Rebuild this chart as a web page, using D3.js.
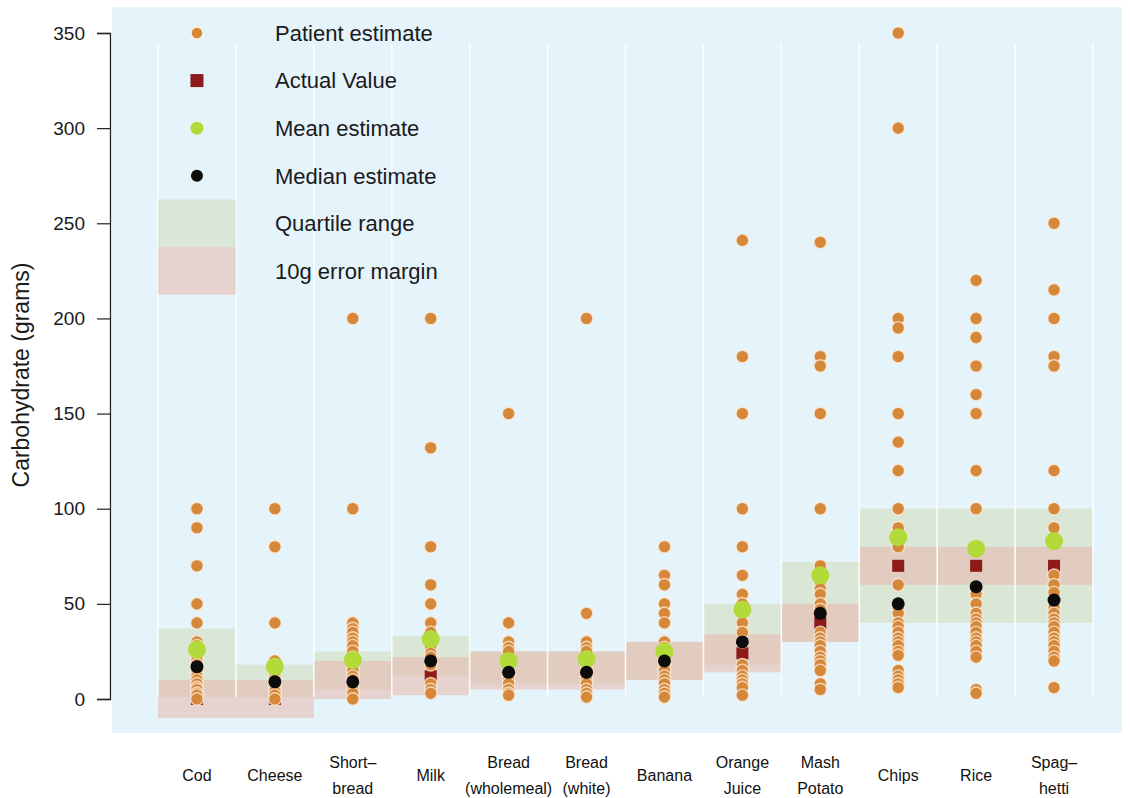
<!DOCTYPE html>
<html><head><meta charset="utf-8">
<script src="https://cdn.jsdelivr.net/npm/d3@7"></script>
<style>body{margin:0;background:#fff;} svg{display:block;font-family:"Liberation Sans",Arial,sans-serif;}</style>
</head><body>
<svg id="c" width="1130" height="798"></svg>
<script>
const categories = ["Cod","Cheese","Short–\nbread","Milk","Bread\n(wholemeal)","Bread\n(white)","Banana","Orange\nJuice","Mash\nPotato","Chips","Rice","Spag–\nhetti"];
const actualValues = [0,0,10,12,15,15,20,24,40,70,70,70];
const meanEstimates = [26,17,20.5,31.5,20,21,25,47,65,85,79,83];
const medianEstimates = [17,9,9,20,14,14,20,30,45,50,59,52];
const quartileLow  = [1,1,5,12,8,8,10,18,30,40,40,40];
const quartileHigh = [37,18,25,33,25,25,30,50,72,100,100,100];
const patientEstimates = [
  [100,90,70,50,40,30,28,25,22,20,18,15,12,10,8,6,5,3,2,0],
  [100,80,40,20,18,15,12,10,8,5,4,2,0],
  [200,100,40,37,35,32,30,28,25,22,20,18,15,12,10,8,5,3,0],
  [200,132,80,60,50,40,35,30,27,24,22,18,8,5,3],
  [150,40,30,27,25,20,15,12,10,8,5,3,2],
  [200,45,30,27,25,20,18,15,12,10,8,5,3,1],
  [80,65,60,50,45,40,30,27,25,20,18,15,12,10,8,5,3,1],
  [241,180,150,100,80,65,55,50,40,35,30,18,15,12,10,8,6,2],
  [240,180,175,150,100,70,60,58,55,50,47,35,32,30,28,25,22,20,18,15,8,5],
  [350,300,200,195,180,150,135,120,100,90,80,60,47,45,40,38,35,32,30,28,25,23,15,12,10,8,6],
  [220,200,190,175,160,150,120,100,58,55,50,45,42,40,38,35,32,30,28,25,22,5,3],
  [250,215,200,180,175,120,100,90,65,60,56,48,45,42,40,38,35,32,30,28,25,22,20,6]
];
const yTicks = [0,50,100,150,200,250,300,350];
const legendLabels = ["Patient estimate","Actual Value","Mean estimate","Median estimate","Quartile range","10g error margin"];
const errorMargin = 10;

const svg = d3.select("#c");
const y = d3.scaleLinear().domain([0,350]).range([699,33]);
const x = d3.scaleBand().domain(categories).range([158,1093]).padding(0);
const bw = x.bandwidth();
const cx = c => x(c) + bw/2;

const C = {panel:"#e5f3fb", dot:"#d5873a", halo:"#fcefdf", mean:"#b2da38", median:"#0c0c0c",
           actual:"#8e1a1a", quart:"rgb(208,220,180)", err:"rgb(231,183,172)"};

// panel
svg.append("rect").attr("x",112).attr("y",7).attr("width",1010).attr("height",726).attr("fill",C.panel);

// quartile and error rects
const g = svg.append("g");
g.selectAll(".q").data(categories).join("rect")
  .attr("x",c=>x(c)).attr("width",bw)
  .attr("y",(c,i)=>y(quartileHigh[i])).attr("height",(c,i)=>y(quartileLow[i])-y(quartileHigh[i]))
  .attr("fill",C.quart).attr("opacity",0.5);
g.selectAll(".e").data(categories).join("rect")
  .attr("x",c=>x(c)).attr("width",bw)
  .attr("y",(c,i)=>y(actualValues[i]+errorMargin)).attr("height",(c,i)=>y(actualValues[i]-errorMargin)-y(actualValues[i]+errorMargin))
  .attr("fill",C.err).attr("opacity",0.55);

// column separators
const bounds = categories.map(c=>x(c)).concat([x(categories[categories.length-1])+bw]);
svg.selectAll(".sep").data(bounds).join("line")
  .attr("x1",d=>d).attr("x2",d=>d).attr("y1",44).attr("y2",697)
  .attr("stroke","#ffffff").attr("stroke-width",1.6).attr("opacity",0.9);

// legend
const lx = cx(categories[0]);
const ly = i => y(350 - 25*i);
svg.append("circle").attr("cx",lx).attr("cy",ly(0)).attr("r",6).attr("fill",C.dot).attr("stroke",C.halo).attr("stroke-width",1.5);
svg.append("rect").attr("x",lx-6.5).attr("y",ly(1)-6.5).attr("width",13).attr("height",13).attr("fill",C.actual);
svg.append("circle").attr("cx",lx).attr("cy",ly(2)).attr("r",6.5).attr("fill",C.mean);
svg.append("circle").attr("cx",lx).attr("cy",ly(3)).attr("r",6).attr("fill",C.median);
svg.append("rect").attr("x",x(categories[0])).attr("width",bw).attr("y",y(262.5)).attr("height",y(237.5)-y(262.5)).attr("fill",C.quart).attr("opacity",0.5);
svg.append("rect").attr("x",x(categories[0])).attr("width",bw).attr("y",y(237.5)).attr("height",y(212.5)-y(237.5)).attr("fill",C.err).attr("opacity",0.55);
svg.selectAll(".lt").data(legendLabels).join("text")
  .attr("x",275).attr("y",(d,i)=>ly(i)).attr("dy","0.36em")
  .attr("font-size",22).attr("fill","#1a1a1a").text(d=>d);

// actual squares (under dots)
svg.selectAll(".act").data(categories).join("rect")
  .attr("x",c=>cx(c)-6).attr("y",(c,i)=>y(actualValues[i])-6).attr("width",12).attr("height",12)
  .attr("fill",C.actual);

// patient dots
categories.forEach((c,i)=>{
  svg.append("g").selectAll("circle").data(patientEstimates[i]).join("circle")
    .attr("cx",cx(c)).attr("cy",d=>y(d)).attr("r",6.3)
    .attr("fill",C.dot).attr("stroke",C.halo).attr("stroke-width",1.4).attr("stroke-opacity",0.75);
});

// mean & median
svg.selectAll(".mean").data(categories).join("circle")
  .attr("cx",cx).attr("cy",(c,i)=>y(meanEstimates[i])).attr("r",9).attr("fill",C.mean);
svg.selectAll(".med").data(categories).join("circle")
  .attr("cx",cx).attr("cy",(c,i)=>y(medianEstimates[i])).attr("r",6.5).attr("fill",C.median);

// y axis
const ax = svg.append("g").attr("transform","translate(110,0)")
  .call(d3.axisLeft(y).tickValues(yTicks).tickSize(13).tickPadding(12));
ax.select(".domain").attr("stroke","#222").attr("stroke-width",1.3);
ax.selectAll(".tick line").attr("stroke","#222").attr("stroke-width",1.2);
ax.selectAll(".tick text").attr("font-size",19).attr("fill","#1a1a1a").attr("font-family","'Liberation Sans',Arial,sans-serif");

svg.append("text").attr("transform","translate(29,375) rotate(-90)").attr("text-anchor","middle")
  .attr("font-size",23).attr("fill","#1a1a1a").text("Carbohydrate (grams)");

// x labels
const xl = svg.selectAll(".xl").data(categories).join("text")
  .attr("text-anchor","middle").attr("font-size",16).attr("fill","#111")
  .attr("font-family","'Liberation Sans Narrow','Liberation Sans',Arial,sans-serif");
xl.each(function(c){
  const lines = c.split("\n");
  const t = d3.select(this);
  lines.forEach((ln,k)=>{
    const yy = lines.length===1 ? 781 : 768 + k*26;
    t.append("tspan").attr("x",cx(c)).attr("y",yy).text(ln);
  });
});
</script>
</body></html>
